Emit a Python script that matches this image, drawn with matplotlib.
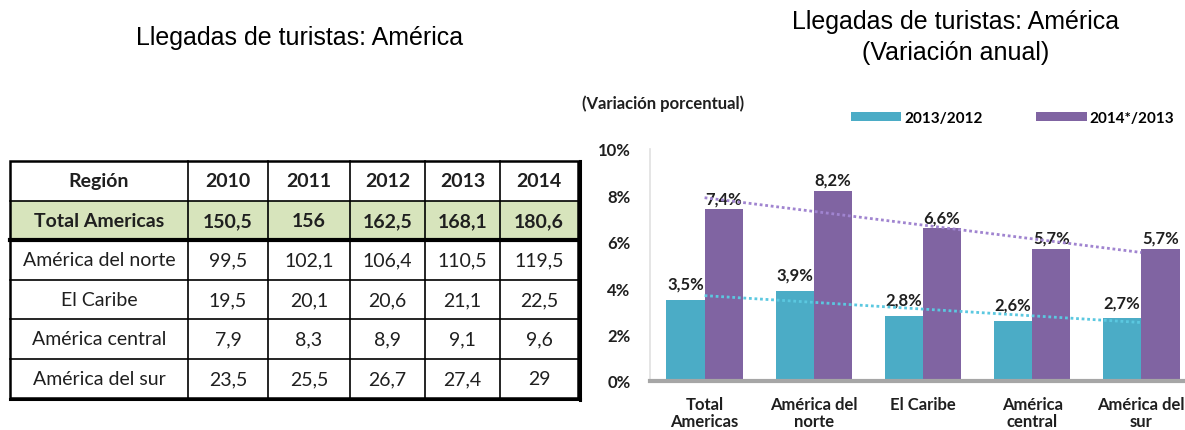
import numpy as np
import matplotlib
matplotlib.use("Agg")
import matplotlib.pyplot as plt
from matplotlib.patches import Rectangle

# ---- data ----
table_years = ["2010", "2011", "2012", "2013", "2014"]
table_regions = ["Total Americas", "América del norte", "El Caribe",
                 "América central", "América del sur"]
total_americas = ["150,5", "156", "162,5", "168,1", "180,6"]
america_norte = ["99,5", "102,1", "106,4", "110,5", "119,5"]
el_caribe = ["19,5", "20,1", "20,6", "21,1", "22,5"]
america_central = ["7,9", "8,3", "8,9", "9,1", "9,6"]
america_sur = ["23,5", "25,5", "26,7", "27,4", "29"]

chart_categories = ["Total\nAmericas", "América del\nnorte", "El Caribe",
                    "América\ncentral", "América del\nsur"]
var_2013_2012 = [3.5, 3.9, 2.8, 2.6, 2.7]
var_2014_2013 = [7.4, 8.2, 6.6, 5.7, 5.7]
series_labels = ["2013/2012", "2014*/2013"]
y_ticks = [0, 2, 4, 6, 8, 10]

W, H = 1185, 431
CYAN = "#4BACC6"
PURPLE = "#8064A2"
BODY = "Lato"
TITLE = "Liberation Sans"
TXT = "#1F1F1F"

fig = plt.figure(figsize=(W / 100, H / 100), dpi=100)

# ---- titles ----
fig.text(300 / W, 1 - 38 / H, "Llegadas de turistas: América", ha="center", va="center",
         fontsize=18, family=TITLE)
fig.text(956 / W, 1 - 22 / H, "Llegadas de turistas: América", ha="center", va="center",
         fontsize=18, family=TITLE)
fig.text(956 / W, 1 - 53 / H, "(Variación anual)", ha="center", va="center",
         fontsize=18, family=TITLE)

# ---- table (pixel coordinates) ----
ax_t = fig.add_axes([0, 0, 1, 1])
ax_t.set_xlim(0, W)
ax_t.set_ylim(H, 0)
ax_t.axis("off")

col_edges = [10, 188, 268, 350, 425, 500, 578]
row_edges = [162, 202, 241, 281, 320, 360, 399]
rows = [table_years, total_americas, america_norte, el_caribe, america_central, america_sur]
first_col = ["Región"] + table_regions

# green band for total row
ax_t.add_patch(Rectangle((col_edges[0], row_edges[1]), col_edges[-1] - col_edges[0],
                         row_edges[2] - row_edges[1], facecolor="#D7E4BC", edgecolor="none"))

for r, vals in enumerate(rows):
    yc = (row_edges[r] + row_edges[r + 1]) / 2
    bold = r < 2
    ax_t.text((col_edges[0] + col_edges[1]) / 2, yc, first_col[r], ha="center", va="center",
              fontsize=14, family=BODY, fontweight="bold" if bold else "normal", color=TXT)
    for c, v in enumerate(vals):
        ax_t.text((col_edges[c + 1] + col_edges[c + 2]) / 2, yc, v, ha="center", va="center",
                  fontsize=14, family=BODY, fontweight="bold" if bold else "normal", color=TXT)

for x in col_edges[1:-1]:
    ax_t.plot([x, x], [row_edges[0], row_edges[-1]], color="black", lw=1.2)
for i, y in enumerate(row_edges[1:-1]):
    ax_t.plot([col_edges[0], col_edges[-1]], [y, y], color="black", lw=3 if i == 1 else 1.2)
ax_t.add_patch(Rectangle((col_edges[0], row_edges[0]), col_edges[-1] - col_edges[0],
                         row_edges[-1] - row_edges[0], fill=False, edgecolor="black", lw=1.8))
ax_t.plot([col_edges[0], col_edges[-1] + 2], [row_edges[-1] + 1.5, row_edges[-1] + 1.5],
          color="black", lw=2.2)
ax_t.plot([col_edges[-1] + 1.5, col_edges[-1] + 1.5], [row_edges[0], row_edges[-1] + 2],
          color="black", lw=2.2)

# ---- bar chart ----
ax = fig.add_axes([650 / W, 49 / H, (W - 650) / W, 232 / H])
x = np.arange(len(chart_categories))
bw = 0.35
b1 = ax.bar(x - bw / 2, var_2013_2012, bw, color=CYAN, label=series_labels[0])
b2 = ax.bar(x + bw / 2, var_2014_2013, bw, color=PURPLE, label=series_labels[1])

fmt = lambda v: f"{v:.1f}".replace(".", ",") + "%"
ax.bar_label(b1, labels=[fmt(v) for v in var_2013_2012], padding=6,
             fontsize=12, fontweight="bold", family=BODY, color=TXT)
ax.bar_label(b2, labels=[fmt(v) for v in var_2014_2013], padding=2,
             fontsize=12, fontweight="bold", family=BODY, color=TXT)

# linear trend lines
for vals, col in [(var_2013_2012, "#5BC8E0"), (var_2014_2013, "#A084D0")]:
    k, b = np.polyfit(x, vals, 1)
    ax.plot([x[0], x[-1]], [b + k * x[0], b + k * x[-1]], color=col, lw=2,
            linestyle=(0, (1, 1)), zorder=3)

ax.set_xlim(-0.5, 4.4)
ax.set_ylim(0, 10)
ax.set_yticks(y_ticks)
ax.set_yticklabels([f"{t}%" for t in y_ticks])
ax.set_xticks(x)
ax.set_xticklabels(chart_categories, linespacing=1.05)
ax.tick_params(axis="both", length=0)
ax.tick_params(axis="y", pad=14)
ax.tick_params(axis="x", pad=11)
for lab in ax.get_xticklabels() + ax.get_yticklabels():
    lab.set_fontsize(12)
    lab.set_fontweight("bold")
    lab.set_family(BODY)
    lab.set_color(TXT)
for s in ["top", "right"]:
    ax.spines[s].set_visible(False)
ax.spines["left"].set_color("#E0E0E0")
ax.spines["left"].set_linewidth(1.2)
ax.spines["bottom"].set_color("#A6A6A6")
ax.spines["bottom"].set_linewidth(3)

fig.text(582 / W, 1 - 104 / H, "(Variación porcentual)", ha="left", va="center",
         fontsize=12, fontweight="bold", family=BODY, color=TXT)
ax.legend(loc="upper left", bbox_to_anchor=(840 / W, 1 - 101 / H),
          bbox_transform=fig.transFigure, ncol=2, frameon=False,
          handlelength=3.3, handleheight=0.55, handletextpad=0.2, columnspacing=3.5,
          borderpad=0.2, prop={"family": BODY, "weight": "bold", "size": 11})

fig.savefig("out.png", dpi=100)
